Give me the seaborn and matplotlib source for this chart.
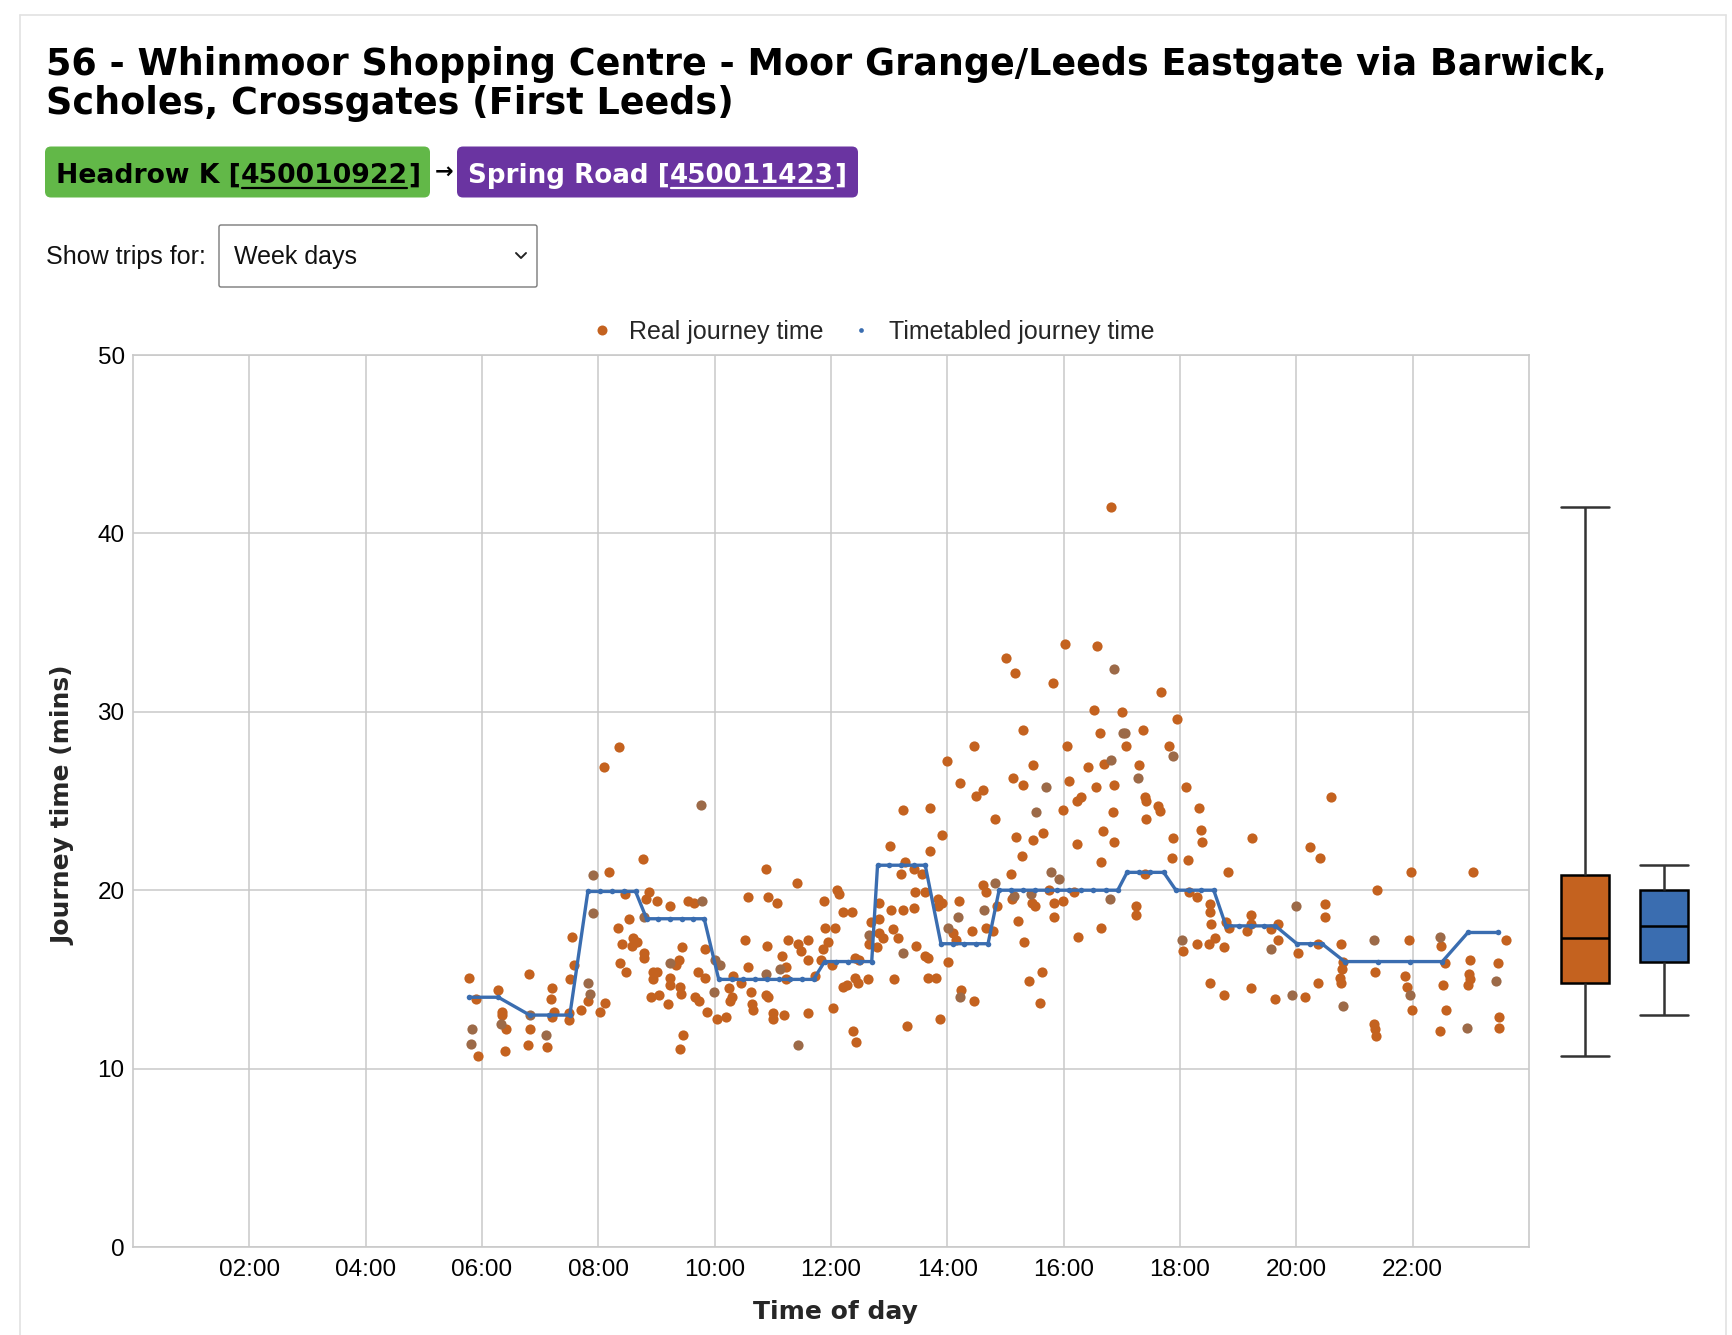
import numpy as np
import pandas as pd
import matplotlib
matplotlib.use("Agg")
import matplotlib.pyplot as plt
import seaborn as sns
from matplotlib.lines import Line2D
from matplotlib.patches import FancyBboxPatch
from matplotlib.transforms import IdentityTransform
from matplotlib.font_manager import FontProperties

# ---------------- data ----------------
real_hours = [
    5.78, 5.90, 5.93, 6.28, 6.35, 6.35, 6.42, 6.40, 6.81, 6.83, 6.79, 7.11, 7.20, 7.18, 7.23, 7.21,
    7.50, 7.50, 7.52, 7.59, 7.55, 7.71, 7.83, 8.03, 8.11, 8.10, 8.35, 8.19, 8.45, 8.52, 8.33, 8.40,
    8.37, 8.48, 8.60, 8.63, 8.58, 8.66, 8.77, 8.87, 8.82, 9.00, 8.78, 8.78, 8.94, 9.01, 8.94, 8.91,
    9.04, 9.20, 9.23, 9.33, 9.39, 9.43, 9.23, 9.23, 9.41, 9.42, 9.45, 9.40, 9.55, 9.65, 9.71, 9.83,
    9.83, 9.67, 9.73, 9.87, 10.04, 10.20, 10.25, 10.30, 10.26, 10.32, 10.45, 10.52, 10.57, 10.58,
    10.63, 10.65, 10.66, 10.89, 10.92, 11.08, 10.90, 10.88, 10.91, 11.01, 11.01, 11.20, 11.16, 11.23,
    11.23, 11.26, 11.42, 11.44, 11.49, 11.60, 11.60, 11.60,
    11.86, 11.83, 11.73, 11.88, 11.90, 12.07, 11.95, 12.02, 12.03, 12.11, 12.13, 12.21, 12.36, 12.21,
    12.28, 12.41, 12.48, 12.41, 12.46, 12.37, 12.43, 12.63, 12.69, 12.65, 12.79, 12.83, 12.82, 12.83,
    12.90, 13.06, 13.03, 13.02, 13.16, 13.08, 13.23, 13.27, 13.20, 13.23, 13.42, 13.45, 13.42, 13.46,
    13.31, 13.57, 13.62, 13.62, 13.66, 13.70, 13.71, 13.67, 13.80, 13.84, 13.84, 13.90, 13.91, 14.00,
    13.88, 14.09, 14.15, 14.01, 14.21, 14.20, 14.23, 14.46, 14.43, 14.50, 14.61, 14.45, 14.61, 14.66,
    14.67, 14.79, 14.82, 14.85, 15.00, 15.16, 15.13, 15.12, 15.10, 15.18, 15.22, 15.28, 15.30, 15.30,
    15.32, 15.40, 15.62, 15.60, 15.48, 15.48, 15.65, 15.46, 15.50, 15.75, 15.82, 15.83, 15.83, 15.98,
    15.98, 16.02, 16.05, 16.10, 16.23, 16.23, 16.29, 16.25, 16.17, 16.42, 16.53, 16.55, 16.57, 16.63,
    16.65, 16.68, 16.70, 16.64, 16.87, 16.85, 16.87, 17.00, 17.07, 17.30, 17.36, 17.39, 17.42, 17.42,
    17.24, 17.25, 16.81,
    17.40, 17.68, 17.95, 17.81, 17.63, 17.66, 18.11, 18.32, 18.36, 18.38, 17.88, 17.86, 18.13, 18.83,
    19.23, 18.16, 18.30, 18.52, 18.52, 18.53, 18.79, 18.85, 18.05, 18.30, 18.49, 18.60, 18.75, 18.52,
    18.75, 19.22, 19.22, 19.15, 19.56, 19.69, 19.69, 19.22, 19.63, 20.15, 20.03, 20.23, 20.40, 20.60,
    20.50, 20.50, 20.37, 20.37, 20.76, 20.80, 20.78, 20.75, 20.77, 21.38, 21.35, 21.34, 21.35, 21.37,
    21.97, 21.94, 21.87, 21.90, 21.99, 22.49, 22.56, 22.53, 22.58, 22.47, 23.04, 22.99, 22.97, 22.99,
    22.95, 23.61, 23.46, 23.49, 23.49,
]
real_mins = [
    15.1, 13.9, 10.7, 14.4, 13.2, 13.0, 12.2, 11.0, 15.3, 12.2, 11.3, 11.2, 14.5, 13.9, 13.2, 12.9,
    13.1, 12.7, 15.0, 15.8, 17.4, 13.3, 13.8, 13.2, 13.7, 26.9, 28.0, 21.0, 19.8, 18.4, 17.9, 17.0,
    15.9, 15.4, 17.3, 17.1, 16.9, 17.1, 21.75, 19.9, 19.5, 19.4, 16.5, 16.2, 15.4, 15.4, 15.0, 14.0,
    14.1, 13.6, 19.1, 15.8, 16.1, 16.8, 15.1, 14.7, 14.6, 14.2, 11.9, 11.1, 19.4, 19.3, 15.4, 15.1,
    16.7, 14.0, 13.8, 13.2, 12.8, 12.9, 14.5, 14.0, 13.8, 15.2, 14.8, 17.2, 15.7, 19.6,
    14.3, 13.6, 13.3, 21.2, 19.6, 19.3, 16.9, 14.1, 14.0, 13.1, 12.8, 13.0, 16.3, 15.7,
    15.0, 17.2, 20.4, 17.0, 16.6, 17.2, 16.1, 13.1,
    16.7, 16.1, 15.2, 19.4, 17.9, 17.9, 17.1, 15.8, 13.4, 20.0, 19.8, 18.8, 18.8, 14.6,
    14.7, 16.2, 16.1, 15.1, 14.8, 12.1, 11.5, 15.0, 18.2, 17.0, 16.8, 18.4, 19.3, 17.6,
    17.3, 17.8, 18.9, 22.5, 17.3, 15.0, 24.5, 21.6, 20.9, 18.9, 21.2, 19.9, 19.0, 16.9,
    12.4, 20.9, 19.9, 16.3, 16.2, 24.6, 22.2, 15.1, 15.1, 19.5, 19.1, 19.3, 23.1, 27.25,
    12.8, 17.6, 17.2, 16.0, 26.0, 19.4, 14.4, 13.8, 17.7, 25.3, 25.6, 28.1, 20.3, 19.9,
    17.9, 17.7, 24.0, 19.1, 33.0, 32.2, 26.3, 19.5, 20.9, 23.0, 18.3, 21.9, 25.9, 29.0,
    17.1, 14.9, 15.4, 13.7, 22.8, 27.0, 23.2, 19.3, 19.1, 20.0, 31.6, 19.3, 18.5, 19.4,
    24.5, 33.8, 28.1, 26.1, 22.6, 25.0, 25.2, 17.4, 19.9, 26.9, 30.1, 25.8, 33.7, 28.8,
    21.6, 23.3, 27.1, 17.9, 25.9, 24.4, 22.7, 30.0, 28.1, 27.0, 29.0, 25.2, 25.0, 24.0,
    19.1, 18.6, 41.5,
    20.9, 31.1, 29.6, 28.1, 24.7, 24.45, 25.8, 24.6, 23.4, 22.7, 22.9, 21.8, 21.7, 21.0,
    22.9, 19.9, 19.6, 19.2, 18.8, 18.1, 18.2, 17.9, 16.6, 17.0, 17.0, 17.3, 16.8, 14.8,
    14.1, 18.6, 18.1, 17.7, 17.8, 18.1, 17.2, 14.5, 13.9, 14.0, 16.5, 22.4, 21.8, 25.2,
    19.2, 18.5, 17.0, 14.8, 17.0, 16.0, 15.6, 15.1, 14.8, 20.0, 15.4, 12.5, 12.2, 11.8,
    21.0, 17.2, 15.2, 14.6, 13.3, 16.9, 15.9, 14.7, 13.3, 12.1, 21.0, 16.1, 15.3, 15.0,
    14.7, 17.2, 15.9, 12.9, 12.3,
]
# darker (overlapping) real journeys
dark_hours = [
    5.82, 5.81, 6.33, 6.82, 7.10, 7.82, 7.85, 7.90, 7.90, 8.78, 9.24, 9.77, 9.78, 10.01, 10.10,
    9.99, 10.89, 11.13, 11.44,
    12.65, 13.24, 14.01, 14.19, 14.21, 14.63, 14.82, 15.15, 15.53, 15.69, 15.44, 15.79, 15.92,
    16.80, 16.82, 16.87, 17.02, 17.05, 17.27,
    17.88, 18.03, 19.57, 19.93, 20.00, 20.80, 21.34, 21.96, 22.47, 22.94, 23.44,
]
dark_mins = [
    12.2, 11.4, 12.5, 13.0, 11.9, 14.8, 14.2, 20.86, 18.7, 18.5, 15.9, 24.75, 19.4, 16.1, 15.8,
    14.3, 15.3, 15.6, 11.3,
    17.5, 16.5, 17.9, 18.5, 14.0, 18.9, 20.4, 19.7, 24.4, 25.8, 19.8, 21.0, 20.6,
    19.5, 27.3, 32.4, 28.8, 28.8, 26.3,
    27.5, 17.2, 16.7, 14.1, 19.1, 13.5, 17.2, 14.1, 17.4, 12.3, 14.9,
]
tt_hours = [
    5.78, 6.28, 6.82, 7.15, 7.51, 7.82, 8.03, 8.23, 8.44, 8.64, 8.83, 9.03, 9.23, 9.43, 9.63, 9.82,
    10.07, 10.29, 10.49, 10.69, 10.90, 11.10, 11.30, 11.50, 11.70, 11.89, 12.09, 12.29, 12.49, 12.70,
    12.80, 13.00, 13.21, 13.42, 13.62, 13.89, 14.09, 14.29, 14.50, 14.70, 14.89, 15.10, 15.30, 15.50,
    15.71, 15.88, 16.09, 16.29, 16.50, 16.72, 16.93, 17.09, 17.29, 17.49, 17.72, 17.93, 18.15, 18.36,
    18.58, 18.79, 19.01, 19.22, 19.44, 19.64, 20.01, 20.23, 20.44, 20.83, 21.40, 21.95, 22.51, 22.95,
    23.46,
]
tt_mins = [
    14.0, 14.0, 13.0, 13.0, 13.0, 19.93, 19.93, 19.93, 19.93, 19.93, 18.4, 18.4, 18.4, 18.4, 18.4, 18.4,
    15.0, 15.0, 15.0, 15.0, 15.0, 15.0, 15.0, 15.0, 15.0, 16.0, 16.0, 16.0, 16.0, 16.0,
    21.4, 21.4, 21.4, 21.4, 21.4, 17.0, 17.0, 17.0, 17.0, 17.0, 20.0, 20.0, 20.0, 20.0,
    20.0, 20.0, 20.0, 20.0, 20.0, 20.0, 20.0, 21.0, 21.0, 21.0, 21.0, 20.0, 20.0, 20.0,
    20.0, 18.0, 18.0, 18.0, 18.0, 18.0, 17.0, 17.0, 17.0, 16.0, 16.0, 16.0, 16.0, 17.63,
    17.63,
]
x_tick_hours = [2, 4, 6, 8, 10, 12, 14, 16, 18, 20, 22]
x_tick_labels = ["02:00", "04:00", "06:00", "08:00", "10:00", "12:00", "14:00",
                 "16:00", "18:00", "20:00", "22:00"]
y_ticks = [0, 10, 20, 30, 40, 50]
series_names = ["Real journey time", "Timetabled journey time"]

title_lines = ["56 - Whinmoor Shopping Centre - Moor Grange/Leeds Eastgate via Barwick,",
               "Scholes, Crossgates (First Leeds)"]
from_stop = ("Headrow K", "450010922")
to_stop = ("Spring Road", "450011423")

# ---------------- style ----------------
ORANGE = "#c4621f"
DARK = "#9c6a48"
BLUE = "#3a6db0"
GRID = "#c9c9c9"
GREEN_BADGE = "#62b848"
PURPLE_BADGE = "#6a34a1"
HEAD_FONT = "DejaVu Sans"
BODY_FONT = "Liberation Sans"

W, H = 1732, 1335
sns.set_theme(style="white")
plt.rcParams['font.family'] = [BODY_FONT, 'DejaVu Sans']

fig = plt.figure(figsize=(W / 100, H / 100), dpi=100)
fig.patch.set_facecolor("white")
renderer = fig.canvas.get_renderer()
IT = IdentityTransform()


def Y(y):
    return H - y


def text_width(s, fp):
    t = fig.text(0, 0, s, fontproperties=fp, transform=IT)
    w = t.get_window_extent(renderer).width
    t.remove()
    return w


def fit_size(s, family, weight, target):
    fp = FontProperties(family=family, weight=weight, size=20)
    return 20 * target / text_width(s, fp)


# card border
for xs, ys in [((20, 20), (15, H)), ((20, 1726), (15, 15)), ((1726, 1726), (15, H))]:
    fig.add_artist(Line2D(xs, [Y(v) for v in ys], transform=IT, color="#e2e2e2", lw=1.2))

# title
tsize = fit_size(title_lines[0], HEAD_FONT, "bold", 1560)
fig.text(46, Y(75), title_lines[0], transform=IT, fontsize=tsize, fontweight="bold",
         family=HEAD_FONT, color="black", va="baseline", ha="left")
fig.text(46, Y(114), title_lines[1], transform=IT, fontsize=tsize, fontweight="bold",
         family=HEAD_FONT, color="black", va="baseline", ha="left")


def badge(x0, x1, label, code, face, tcolor, target_w):
    fig.add_artist(FancyBboxPatch((x0, Y(197.5)), x1 - x0, 51,
                                  boxstyle="round,pad=0,rounding_size=6", transform=IT,
                                  facecolor=face, edgecolor="none"))
    full = f"{label} [{code}]"
    size = fit_size(full, HEAD_FONT, "bold", target_w)
    fp = FontProperties(family=HEAD_FONT, weight="bold", size=size)
    x = x0 + 11
    base = Y(183)
    for piece, ul in [(label + " [", False), (code, True), ("]", False)]:
        t = fig.text(x, base, piece, transform=IT, fontproperties=fp, color=tcolor,
                     va="baseline", ha="left")
        w = t.get_window_extent(renderer).width
        if ul:
            fig.add_artist(Line2D([x + 1, x + w - 1], [base - 4.5, base - 4.5], transform=IT,
                                  color=tcolor, lw=1.6))
        x += w


badge(45, 430, from_stop[0], from_stop[1], GREEN_BADGE, "black", 364)
badge(457, 858, to_stop[0], to_stop[1], PURPLE_BADGE, "white", 378)
fig.text(444, Y(172), "\u2192", transform=IT, fontsize=16, fontweight="bold",
         family="DejaVu Sans", ha="center", va="center", color="black")

# show trips for + dropdown
fig.text(46, Y(257), "Show trips for:", transform=IT, fontsize=18, family=BODY_FONT,
         ha="left", va="center", color="#111111")
fig.add_artist(FancyBboxPatch((219, Y(287)), 318, 62, boxstyle="round,pad=0,rounding_size=2",
                              transform=IT, facecolor="white", edgecolor="#7a7a7a", lw=1.0))
fig.text(234, Y(257), "Week days", transform=IT, fontsize=18, family=BODY_FONT,
         ha="left", va="center", color="#111111")
fig.add_artist(Line2D([516, 521, 526], [Y(253), Y(258), Y(253)], transform=IT,
                      color="#222222", lw=1.4))

# ---------------- main axes ----------------
ax = fig.add_axes([133 / W, 1 - 1247 / H, (1529 - 133) / W, (1247 - 355) / H])
axb = fig.add_axes([1545 / W, 1 - 1247 / H, 159 / W, (1247 - 355) / H], sharey=ax)

sns.scatterplot(x=real_hours, y=real_mins, color=ORANGE, s=54, linewidth=0, ax=ax,
                zorder=3, legend=False)
sns.scatterplot(x=dark_hours, y=dark_mins, color=DARK, s=54, linewidth=0, ax=ax,
                zorder=3, legend=False)
sns.lineplot(x=tt_hours, y=tt_mins, color=BLUE, linewidth=2.4, marker="o", markersize=4,
             markeredgewidth=0, ax=ax, zorder=4, legend=False)

ax.set_xlim(0, 24)
ax.set_ylim(0, 50)
ax.set_xticks(x_tick_hours)
ax.set_xticklabels(x_tick_labels)
ax.set_yticks(y_ticks)
ax.set_yticklabels([str(v) for v in y_ticks])
ax.grid(True, color=GRID, lw=1.1)
ax.set_axisbelow(True)
for sp in ax.spines.values():
    sp.set_color(GRID)
    sp.set_linewidth(1.2)
ax.tick_params(axis="both", length=0, labelsize=17.5, colors="black")
ax.tick_params(axis="x", pad=9)
ax.tick_params(axis="y", pad=6)
ax.set_xlabel("")
ax.set_ylabel("")
for lab in ax.get_xticklabels() + ax.get_yticklabels():
    lab.set_family(BODY_FONT)

fig.text(835, Y(1312), "Time of day", transform=IT, fontsize=18, fontweight="bold",
         family=HEAD_FONT, ha="center", va="center")
fig.text(63, Y(805), "Journey time (mins)", transform=IT, fontsize=18, fontweight="bold",
         family=HEAD_FONT, ha="center", va="center", rotation=90)

# legend
handles = [Line2D([0], [0], marker="o", ls="", color=ORANGE, markersize=7.2, markeredgewidth=0),
           Line2D([0], [0], marker="o", ls="", color=BLUE, markersize=3.4, markeredgewidth=0)]
leg = fig.legend(handles, series_names, loc="center", bbox_to_anchor=(873 / W, 1 - 332 / H),
                 ncol=2, frameon=False, fontsize=18, handlelength=0.8, handletextpad=0.7,
                 columnspacing=1.1, borderaxespad=0)
for t in leg.get_texts():
    t.set_family(BODY_FONT)

# ---------------- box plots ----------------
box_df = pd.DataFrame({
    "series": [series_names[0]] * (len(real_mins) + len(dark_mins)) + [series_names[1]] * len(tt_mins),
    "mins": list(real_mins) + list(dark_mins) + list(tt_mins),
})
sns.boxplot(data=box_df, x="series", y="mins", hue="series", order=series_names,
            hue_order=series_names, palette=[ORANGE, BLUE], saturation=1, width=0.6,
            whis=(0, 100), showfliers=False, linecolor="black", linewidth=1.8,
            whiskerprops=dict(color="#333333"), capprops=dict(color="#333333"),
            capwidths=0.6, ax=axb, legend=False)
axb.set_xlim(-0.5, 1.5)
for sp in axb.spines.values():
    sp.set_visible(False)
axb.grid(False)
axb.set_facecolor("none")
axb.tick_params(left=False, bottom=False, labelleft=False, labelbottom=False)
axb.set_xlabel("")
axb.set_ylabel("")

fig.savefig("out.png", dpi=100, facecolor="white")
